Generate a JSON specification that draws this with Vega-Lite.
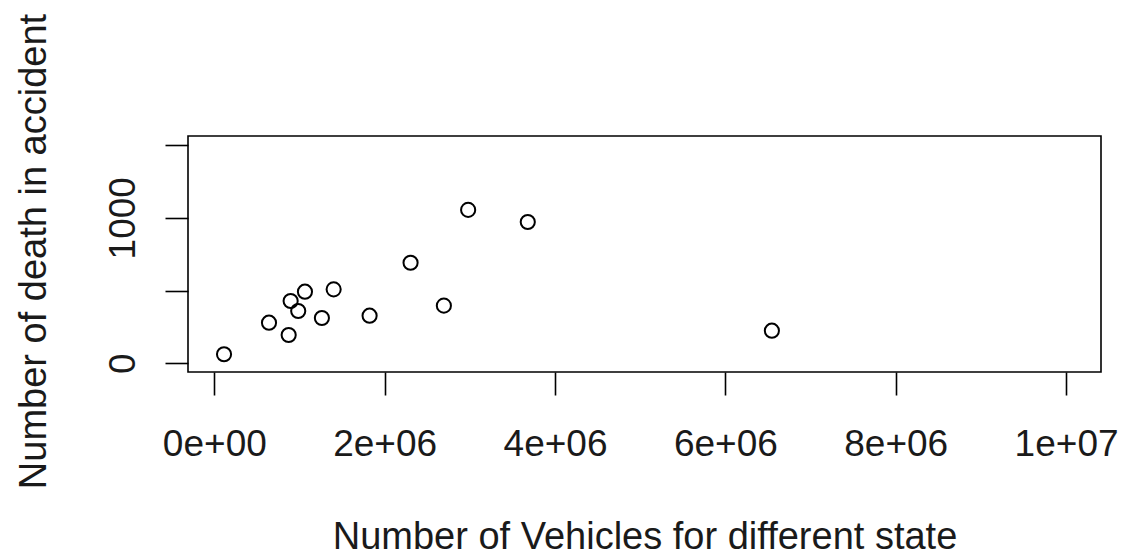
{
  "$schema": "https://vega.github.io/schema/vega-lite/v6.json",
  "width": 913,
  "height": 236,
  "autosize": {"type": "none"},
  "padding": {"left": 188, "top": 136, "right": 22, "bottom": 184},
  "background": "white",
  "config": {
    "view": {"stroke": "#000000", "strokeWidth": 1.6},
    "font": "Liberation Sans"
  },
  "data": {
    "values": [
      {"vehicles": 114000, "deaths": 62},
      {"vehicles": 642000, "deaths": 279},
      {"vehicles": 873000, "deaths": 194},
      {"vehicles": 896000, "deaths": 428},
      {"vehicles": 985000, "deaths": 359},
      {"vehicles": 1064000, "deaths": 492},
      {"vehicles": 1263000, "deaths": 311},
      {"vehicles": 1401000, "deaths": 508},
      {"vehicles": 1823000, "deaths": 327},
      {"vehicles": 2304000, "deaths": 691},
      {"vehicles": 2695000, "deaths": 396},
      {"vehicles": 2980000, "deaths": 1054},
      {"vehicles": 3680000, "deaths": 971},
      {"vehicles": 6546000, "deaths": 224}
    ]
  },
  "mark": {"type": "point", "shape": "circle", "filled": false, "stroke": "#000000", "strokeWidth": 2, "size": 200, "opacity": 1},
  "encoding": {
    "x": {
      "field": "vehicles",
      "type": "quantitative",
      "scale": {"domain": [-309000, 10410000], "nice": false, "zero": false},
      "axis": {
        "values": [0, 2000000, 4000000, 6000000, 8000000, 10000000],
        "labelExpr": "datum.value == 0 ? '0e+00' : (datum.value == 10000000 ? '1e+07' : format(datum.value / 1000000, 'd') + 'e+06')",
        "grid": false,
        "domain": false,
        "ticks": true,
        "tickSize": 23,
        "tickWidth": 1.6,
        "tickColor": "#000000",
        "labelFont": "Liberation Sans",
        "labelFontSize": 37,
        "labelColor": "#1a1a1a",
        "labelBaseline": "alphabetic",
        "labelPadding": 60,
        "labelOverlap": false,
        "labelFlush": false,
        "title": "Number of Vehicles for different state",
        "titleFont": "Liberation Sans",
        "titleFontSize": 38,
        "titleFontWeight": "normal",
        "titleColor": "#1a1a1a",
        "titleBaseline": "alphabetic",
        "titleY": 176
      }
    },
    "y": {
      "field": "deaths",
      "type": "quantitative",
      "scale": {"domain": [-60, 1562], "nice": false, "zero": false},
      "axis": {
        "values": [0, 500, 1000, 1500],
        "format": "d",
        "labelExpr": "datum.value == 0 || datum.value == 1000 ? datum.label : ''",
        "grid": false,
        "domain": false,
        "ticks": true,
        "tickSize": 23,
        "tickWidth": 1.6,
        "tickColor": "#000000",
        "labelFont": "Liberation Sans",
        "labelFontSize": 37,
        "labelColor": "#1a1a1a",
        "labelAngle": -90,
        "labelAlign": "center",
        "labelBaseline": "alphabetic",
        "labelPadding": 31,
        "labelOverlap": false,
        "labelFlush": false,
        "title": "Number of death in accident",
        "titleFont": "Liberation Sans",
        "titleFontSize": 38,
        "titleFontWeight": "normal",
        "titleColor": "#1a1a1a",
        "titleAngle": -90,
        "titleAlign": "center",
        "titleBaseline": "alphabetic",
        "titleX": -143,
        "titleY": 115
      }
    }
  }
}
